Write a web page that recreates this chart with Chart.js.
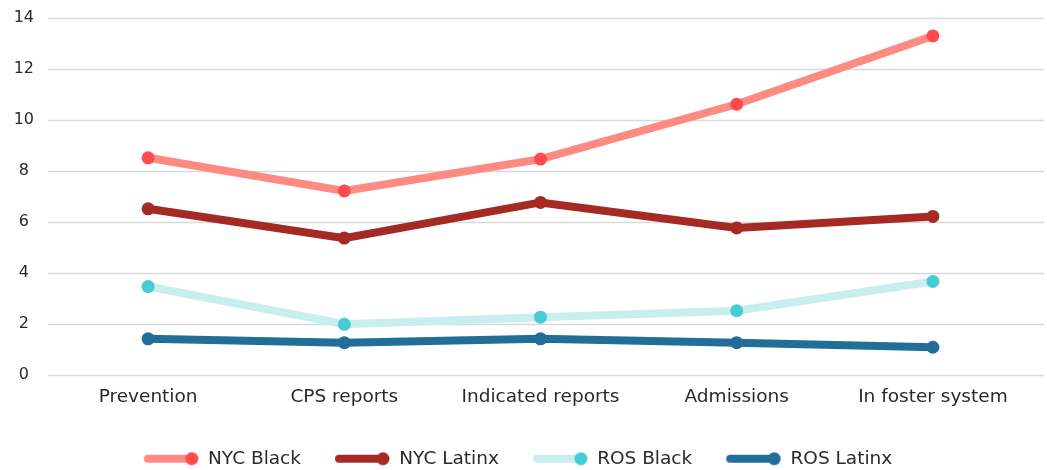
<!DOCTYPE html>
<html>
<head>
<meta charset="utf-8">
<script src="https://cdn.jsdelivr.net/npm/chart.js@4/dist/chart.umd.min.js"></script>
<style>
  html, body { margin: 0; padding: 0; background: #fff; }
  #wrap { width: 1047px; height: 470px; }
</style>
</head>
<body>
<div id="wrap"><canvas id="myChart" width="1047" height="470"></canvas></div>
<script>
// values
const categories = ['Prevention', 'CPS reports', 'Indicated reports', 'Admissions', 'In foster system'];
const nycBlack  = [8.5, 7.2, 8.45, 10.6, 13.28];
const nycLatinx = [6.5, 5.35, 6.75, 5.75, 6.2];
const rosBlack  = [3.45, 1.97, 2.25, 2.5, 3.65];
const rosLatinx = [1.4, 1.25, 1.4, 1.25, 1.07];
const yTicks = [0, 2, 4, 6, 8, 10, 12, 14];

const FONT = '"DejaVu Sans", sans-serif';

// legend swatch: thick line ending in a dot
function swatch(lineColor, dotColor) {
  var c = document.createElement('canvas');
  c.width = 56; c.height = 16;
  var g = c.getContext('2d');
  g.strokeStyle = lineColor;
  g.lineWidth = 8;
  g.lineCap = 'round';
  g.beginPath(); g.moveTo(5, 8); g.lineTo(48, 8); g.stroke();
  g.fillStyle = dotColor;
  g.beginPath(); g.arc(49, 8, 6.5, 0, Math.PI * 2); g.fill();
  return c;
}

function series(label, data, lineColor, dotColor) {
  return {
    label: label,
    data: data,
    borderColor: lineColor,
    backgroundColor: dotColor,
    pointBackgroundColor: dotColor,
    pointBorderColor: dotColor,
    pointBorderWidth: 0,
    borderWidth: 8,
    pointRadius: 6.5,
    pointHoverRadius: 6.5,
    tension: 0,
    pointStyle: 'circle',
    legendSwatch: swatch(lineColor, dotColor)
  };
}

// horizontal grid lines run a bit past the plot, as in the reference
const gridPlugin = {
  id: 'fullGrid',
  beforeDatasetsDraw(chart) {
    const y = chart.scales.y;
    const ctx = chart.ctx;
    ctx.save();
    ctx.strokeStyle = '#d6d9d9';
    ctx.lineWidth = 1.3;
    yTicks.forEach(function (v) {
      const py = Math.round(y.getPixelForValue(v)) + 0.5;
      ctx.beginPath();
      ctx.moveTo(48, py);
      ctx.lineTo(1044, py);
      ctx.stroke();
    });
    ctx.restore();
  }
};

var ctx = document.getElementById('myChart').getContext('2d');
var myChart = new Chart(ctx, {
  type: 'line',
  data: {
    labels: categories,
    datasets: [
      series('NYC Black', nycBlack, '#fd8b82', '#ff4b4b'),
      series('NYC Latinx', nycLatinx, '#a52a24', '#a52a24'),
      series('ROS Black', rosBlack, '#c8eef0', '#46ccd6'),
      series('ROS Latinx', rosLatinx, '#236e99', '#236e99')
    ]
  },
  plugins: [gridPlugin],
  options: {
    responsive: false,
    animation: false,
    layout: { padding: { left: 4, right: 16, top: 10, bottom: -8 } },
    plugins: {
      tooltip: { enabled: false },
      legend: {
        position: 'bottom',
        labels: {
          usePointStyle: true,
          pointStyleWidth: 56,
          boxHeight: 16,
          padding: 33,
          color: '#2a2a2a',
          font: { family: FONT, size: 18.5 },
          generateLabels: function (chart) {
            return chart.data.datasets.map(function (ds, i) {
              return {
                text: ds.label,
                pointStyle: ds.legendSwatch,
                fillStyle: ds.backgroundColor,
                strokeStyle: ds.borderColor,
                lineWidth: 0,
                fontColor: '#2a2a2a',
                hidden: false,
                datasetIndex: i
              };
            });
          }
        }
      }
    },
    scales: {
      x: {
        offset: true,
        grid: { display: false },
        border: { display: false },
        afterFit: function (s) { s.height = 42; },
        ticks: { color: '#2a2a2a', font: { family: FONT, size: 18.5 }, padding: 4 }
      },
      y: {
        min: 0,
        max: 14,
        afterBuildTicks: function (s) { s.ticks = yTicks.map(function (v) { return { value: v }; }); },
        grid: { display: false },
        border: { display: false },
        afterFit: function (s) { s.width = 46; },
        ticks: {
          color: '#2a2a2a',
          font: { family: FONT, size: 16 },
          crossAlign: 'center',
          padding: 8
        }
      }
    }
  }
});
</script>
</body>
</html>
